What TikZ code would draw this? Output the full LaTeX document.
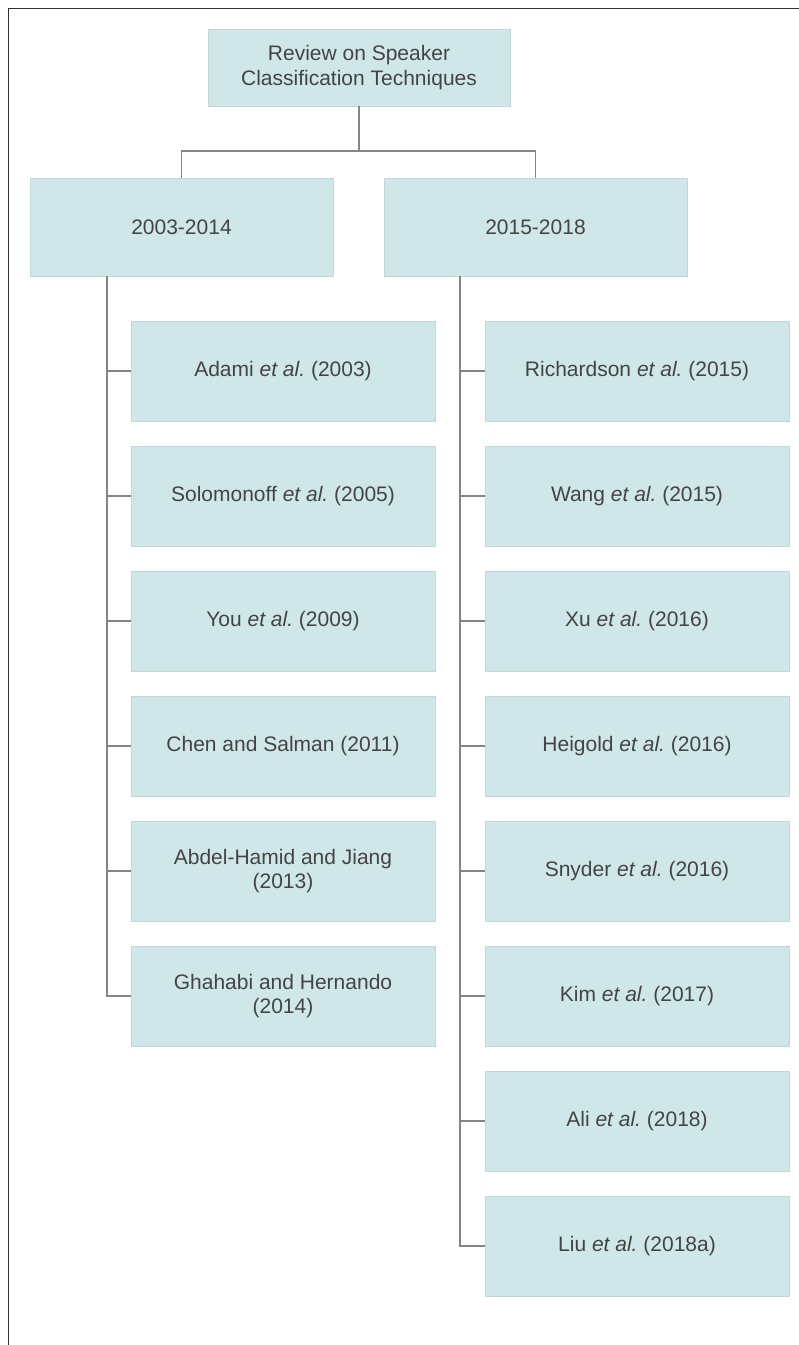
\documentclass[tikz,border=0pt]{standalone}
\usepackage{fontspec}
\setmainfont{Liberation Sans}
\definecolor{boxfill}{HTML}{CFE7E8}
\definecolor{boxline}{HTML}{C4D8DA}
\definecolor{txt}{HTML}{444444}
\definecolor{connc}{HTML}{858585}
\definecolor{framec}{HTML}{333333}
\newcommand{\etal}{{\itshape et al.}}
\begin{document}
\frenchspacing
\begin{tikzpicture}[x=0.75pt,y=-0.75pt,
  box/.style={draw=boxline,line width=0.6pt,fill=boxfill,text=txt,align=center,inner sep=0pt,font=\fontsize{15.75}{18.4}\selectfont},
  rootbox/.style={box,minimum width=226.5pt,minimum height=57.75pt},
  yearbox/.style={box,minimum width=227.25pt,minimum height=73.5pt},
  refbox/.style={box,minimum width=228pt,minimum height=75pt},
  conn/.style={draw=connc,line width=1.4pt},
  frameline/.style={draw=framec,line width=0.9pt}]
\useasboundingbox (0,0) rectangle (799,1345);
\draw[frameline] (8.5,1345) -- (8.5,8.5) -- (799,8.5);

\node[rootbox] (root) at (359,67.5) {Review on Speaker\\Classification Techniques};
\node[yearbox] (l1) at (181.5,227) {2003-2014};
\node[yearbox] (r1) at (535.5,227) {2015-2018};

\node[refbox] (a1) at (283,371) {Adami \etal{} (2003)};
\node[refbox] (a2) at (283,496) {Solomonoff \etal{} (2005)};
\node[refbox] (a3) at (283,621) {You \etal{} (2009)};
\node[refbox] (a4) at (283,746) {Chen and Salman (2011)};
\node[refbox] (a5) at (283,871) {Abdel-Hamid and Jiang\\(2013)};
\node[refbox] (a6) at (283,996) {Ghahabi and Hernando\\(2014)};

\node[refbox] (b1) at (637,371) {Richardson \etal{} (2015)};
\node[refbox] (b2) at (637,496) {Wang \etal{} (2015)};
\node[refbox] (b3) at (637,621) {Xu \etal{} (2016)};
\node[refbox] (b4) at (637,746) {Heigold \etal{} (2016)};
\node[refbox] (b5) at (637,871) {Snyder \etal{} (2016)};
\node[refbox] (b6) at (637,996) {Kim \etal{} (2017)};
\node[refbox] (b7) at (637,1121) {Ali \etal{} (2018)};
\node[refbox] (b8) at (637,1246) {Liu \etal{} (2018a)};

% top connectors
\draw[conn] (root.south) -- ++(0,45) coordinate (mid) -| (l1.north);
\draw[conn] (mid) -| (r1.north);

% left trunk
\path (l1.south west) ++(77,0) coordinate (lt);
\draw[conn] (lt) |- (a6.west);
\foreach \n in {a1,a2,a3,a4,a5}{\draw[conn] (lt |- \n.west) -- (\n.west);}

% right trunk
\path (r1.south west) ++(76,0) coordinate (rt);
\draw[conn] (rt) |- (b8.west);
\foreach \n in {b1,b2,b3,b4,b5,b6,b7}{\draw[conn] (rt |- \n.west) -- (\n.west);}
\end{tikzpicture}
\end{document}
